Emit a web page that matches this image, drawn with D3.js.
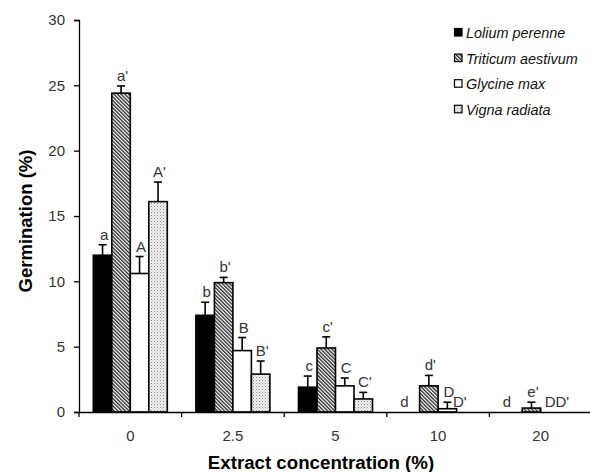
<!doctype html>
<html>
    <head>
        <script src="https://d3js.org/d3.v7.min.js"></script>
        <style>
            body { margin: 0; background: #fff; }
            text { font-family: Arial, "Liberation Sans", sans-serif; }
        </style>
    </head>
    <body>
        <script>
// data
var concentrations = ["0", "2.5", "5", "10", "20"];
var species = ["Lolium perenne", "Triticum aestivum", "Glycine max", "Vigna radiata"];

var lolium   = [12.0, 7.4, 1.9, 0, 0];
var triticum = [24.4, 9.9, 4.9, 2.0, 0.3];
var glycine  = [10.6, 4.7, 2.0, 0.25, 0];
var vigna    = [16.1, 2.9, 1.0, 0, 0];

// size of the error bars (upper half only)
var loliumErr   = [0.8, 1.0, 0.85, 0, 0];
var triticumErr = [0.55, 0.4, 0.85, 0.8, 0.45];
var glycineErr  = [1.3, 1.0, 0.6, 0.5, 0];
var vignaErr    = [1.5, 1.0, 0.5, 0, 0];

var loliumLab   = ["a", "b", "c", "d", "d"];
var triticumLab = ["a'", "b'", "c'", "d'", "e'"];
var glycineLab  = ["A", "B", "C", "D", "DD'"];
var vignaLab    = ["A'", "B'", "C'", "D'", ""];

var yTicks = [0, 5, 10, 15, 20, 25, 30];

var margin = {top: 20, right: 0, bottom: 60, left: 79},
    width = 590, height = 472,
    chartWidth = 513,
    chartHeight = 392;

var svg = d3.select("body")
  .append("svg")
    .attr("width", width)
    .attr("height", height);

// fill patterns
var defs = svg.append("defs");
var hatch = defs.append("pattern")
    .attr("id", "hatch")
    .attr("patternUnits", "userSpaceOnUse")
    .attr("width", 2.6).attr("height", 2.6)
    .attr("patternTransform", "rotate(-45)");
hatch.append("rect").attr("width", 2.6).attr("height", 2.6).attr("fill", "#fff");
hatch.append("rect").attr("width", 1.4).attr("height", 2.6).attr("fill", "#333");

var dots = defs.append("pattern")
    .attr("id", "dots")
    .attr("patternUnits", "userSpaceOnUse")
    .attr("width", 3).attr("height", 3);
dots.append("rect").attr("width", 3).attr("height", 3).attr("fill", "#f2f2f2");
dots.append("rect").attr("width", 1).attr("height", 1).attr("fill", "#888");
dots.append("rect").attr("x", 1.5).attr("y", 1.5).attr("width", 1).attr("height", 1).attr("fill", "#aaa");

var fills = ["#000", "url(#hatch)", "#fff", "url(#dots)"];

var series = species.map(function(s, i) {
  return {
    name: s,
    fill: fills[i],
    values: [lolium, triticum, glycine, vigna][i],
    errors: [loliumErr, triticumErr, glycineErr, vignaErr][i],
    labels: [loliumLab, triticumLab, glycineLab, vignaLab][i]
  };
});

var g = svg.append("g")
    .attr("transform", "translate(" + margin.left + "," + margin.top + ")");

var xScale = d3.scaleBand()
    .domain(concentrations)
    .range([0, chartWidth]);

var xInner = d3.scaleBand()
    .domain(species)
    .range([0, 74]);

var yScale = d3.scaleLinear()
    .domain([0, 30])
    .range([chartHeight, 0]);

function barX(i, j) {
  return xScale(concentrations[i]) + xScale.bandwidth() / 2 - 37 + xInner(species[j]);
}

// bars
series.forEach(function(s, j) {
  var idx = d3.range(concentrations.length);

  g.selectAll(".bar" + j)
    .data(idx.filter(function(i) { return s.values[i] > 0; }))
    .enter().append("rect")
      .attr("x", function(i) { return barX(i, j); })
      .attr("y", function(i) { return yScale(s.values[i]); })
      .attr("width", xInner.bandwidth())
      .attr("height", function(i) { return chartHeight - yScale(s.values[i]); })
      .attr("fill", s.fill)
      .attr("stroke", "#000")
      .attr("stroke-width", 1.6);

  // error bars
  var withErr = idx.filter(function(i) { return s.errors[i] > 0; });
  var cx = function(i) { return barX(i, j) + xInner.bandwidth() / 2; };
  g.selectAll(".err" + j)
    .data(withErr)
    .enter().append("line")
      .attr("x1", cx).attr("x2", cx)
      .attr("y1", function(i) { return yScale(s.values[i]); })
      .attr("y2", function(i) { return yScale(s.values[i] + s.errors[i]); })
      .attr("stroke", "#000")
      .attr("stroke-width", 1.6);
  g.selectAll(".cap" + j)
    .data(withErr)
    .enter().append("line")
      .attr("x1", function(i) { return cx(i) - 4; })
      .attr("x2", function(i) { return cx(i) + 4; })
      .attr("y1", function(i) { return yScale(s.values[i] + s.errors[i]); })
      .attr("y2", function(i) { return yScale(s.values[i] + s.errors[i]); })
      .attr("stroke", "#000")
      .attr("stroke-width", 1.6);

  // letters; the ones for empty bars sit a bit to the left
  g.selectAll(".lab" + j)
    .data(idx.filter(function(i) { return s.labels[i] !== ""; }))
    .enter().append("text")
      .attr("x", function(i) {
        if (s.labels[i] === "DD'") return cx(i) + 7;
        if (s.values[i] === 0) return cx(i) - 6;
        return cx(i) + 1.5;
      })
      .attr("y", function(i) { return yScale(s.values[i] + s.errors[i]) - 5; })
      .attr("text-anchor", "middle")
      .style("font-size", "15px")
      .style("fill", "#333")
      .text(function(i) { return s.labels[i]; });
});

// axes
var x_axis = d3.axisBottom(xScale)
    .tickSize(0)
    .tickPadding(18);

var y_axis = d3.axisLeft(yScale)
    .tickValues(yTicks)
    .tickSize(5)
    .tickPadding(9);

var gx = g.append("g")
    .attr("transform", "translate(0," + chartHeight + ")")
    .call(x_axis);
gx.select(".domain").attr("stroke-width", 1.3);
gx.selectAll("text").style("font-size", "15px").style("fill", "#333");

// ticks between the groups
gx.selectAll(".sep")
  .data(concentrations)
  .enter().append("line")
    .attr("x1", function(d) { return xScale(d); })
    .attr("x2", function(d) { return xScale(d); })
    .attr("y1", 0).attr("y2", 5)
    .attr("stroke", "#000")
    .attr("stroke-width", 1.3);

var gy = g.append("g").call(y_axis);
gy.select(".domain").attr("stroke-width", 1.3);
gy.selectAll("line").attr("stroke-width", 1.3);
gy.selectAll("text").style("font-size", "15px").style("fill", "#333");

// axis titles
svg.append("text")
    .attr("x", 321)
    .attr("y", 469)
    .attr("text-anchor", "middle")
    .style("font-size", "18.7px")
    .style("font-weight", "bold")
    .text("Extract concentration (%)");

svg.append("text")
    .attr("transform", "translate(32,221) rotate(-90)")
    .attr("text-anchor", "middle")
    .style("font-size", "18.5px")
    .style("font-weight", "bold")
    .text("Germination (%)");

// legend
var legend = svg.append("g")
    .attr("transform", "translate(454,28)");

var item = legend.selectAll(".item")
  .data(series)
  .enter().append("g")
    .attr("transform", function(d, i) { return "translate(0," + (i * 25.6) + ")"; });

item.append("rect")
    .attr("x", 0.5).attr("y", 0.5)
    .attr("width", 7.5).attr("height", 7.5)
    .attr("fill", function(d) { return d.fill; })
    .attr("stroke", "#000")
    .attr("stroke-width", 1.2);

item.append("text")
    .attr("x", 12)
    .attr("y", 10)
    .style("font-size", "14.4px")
    .style("font-style", "italic")
    .style("fill", "#111")
    .text(function(d) { return d.name; });
        </script>
    </body>
</html>
